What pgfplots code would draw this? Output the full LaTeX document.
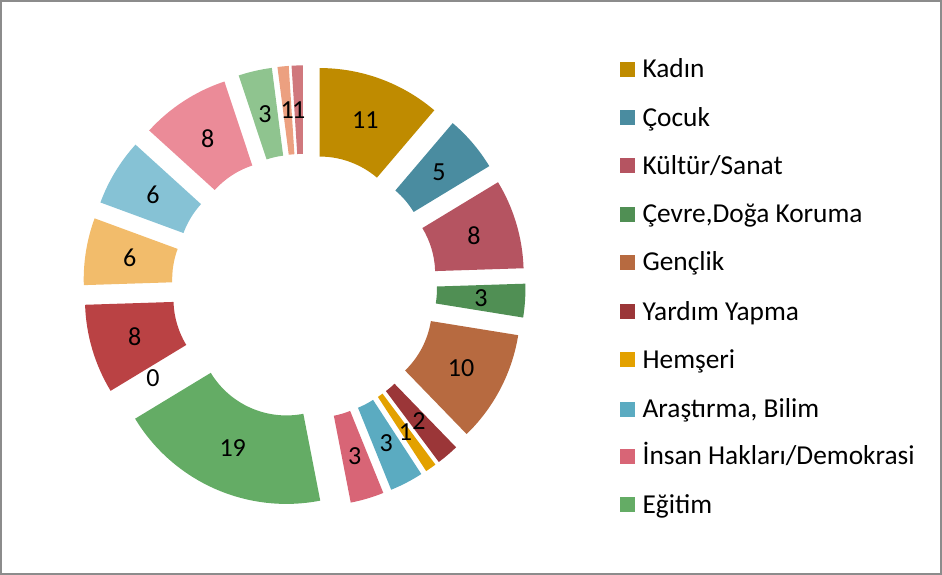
\documentclass[border=0pt]{standalone}
\usepackage{pgfplots}
\pgfplotsset{compat=1.18}
\usepackage{pgfplotstable}
\usepackage{fontspec}
\setmainfont{Carlito}
\definecolor{c1}{HTML}{BF8B00}
\definecolor{c2}{HTML}{4A8CA0}
\definecolor{c3}{HTML}{B55461}
\definecolor{c4}{HTML}{508F54}
\definecolor{c5}{HTML}{B76A40}
\definecolor{c6}{HTML}{9B3638}
\definecolor{c7}{HTML}{E3A100}
\definecolor{c8}{HTML}{5BABC1}
\definecolor{c9}{HTML}{D86576}
\definecolor{c10}{HTML}{64AC65}
\definecolor{c11}{HTML}{8C6D2E}
\definecolor{c12}{HTML}{BA4244}
\definecolor{c13}{HTML}{F2BC6B}
\definecolor{c14}{HTML}{86C2D5}
\definecolor{c15}{HTML}{EB8B98}
\definecolor{c16}{HTML}{8FC48F}
\definecolor{c17}{HTML}{ECA080}
\definecolor{c18}{HTML}{D0787D}
\definecolor{frame}{HTML}{8C8C8C}
\newcommand{\lblfont}{\fontsize{26}{30}\selectfont}
\newcommand{\legfont}{\fontsize{27.3}{32}\selectfont}
\pgfplotstableread{
v c
11 c1
5 c2
8 c3
3 c4
10 c5
2 c6
1 c7
3 c8
3 c9
19 c10
0 c11
8 c12
6 c13
6 c14
8 c15
3 c16
1 c17
1 c18
}\data
\newcommand{\legitem}[3]{%
  \fill[#2] (axis cs:621,#1-7.5) rectangle (axis cs:636,#1+7.5);
  \node[anchor=base west, inner sep=0pt, font=\legfont] at (axis cs:643,#1-8.5) {#3};}
\begin{document}
\begin{tikzpicture}
\begin{axis}[width=942bp,height=572bp,scale only axis,
  xmin=0,xmax=942,ymin=0,ymax=572,hide axis,clip=false]
\draw[frame, line width=2bp] (axis cs:5,571) rectangle (axis cs:940,1.5);
\def\cum{0}
\pgfplotsforeachungrouped \i in {0,...,17}{%
  \pgfplotstablegetelem{\i}{v}\of\data \let\val\pgfplotsretval
  \pgfplotstablegetelem{\i}{c}\of\data \let\col\pgfplotsretval
  \pgfmathsetmacro\sa{90-\cum/98*360}%
  \pgfmathsetmacro\ea{90-(\cum+\val)/98*360}%
  \pgfmathsetmacro\ma{(\sa+\ea)/2}%
  \pgfmathsetmacro\ox{306.7+44*cos(\ma)}%
  \pgfmathsetmacro\oy{287+44*sin(\ma)}%
  \pgfmathsetmacro\pax{\ox+88*cos(\sa)}%
  \pgfmathsetmacro\pay{\oy+88*sin(\sa)}%
  \pgfmathsetmacro\pbx{\ox+176*cos(\sa)}%
  \pgfmathsetmacro\pby{\oy+176*sin(\sa)}%
  \pgfmathsetmacro\pcx{\ox+88*cos(\ea)}%
  \pgfmathsetmacro\pcy{\oy+88*sin(\ea)}%
  \pgfmathsetmacro\plx{\ox+132*cos(\ma)}%
  \pgfmathsetmacro\ply{\oy+132*sin(\ma)}%
  \ifnum\val>0
  \edef\temp{\noexpand\fill[\col] (axis cs:\pax,\pay) -- (axis cs:\pbx,\pby)
     arc[start angle=\sa, end angle=\ea, radius=176bp] -- (axis cs:\pcx,\pcy)
     arc[start angle=\ea, end angle=\sa, radius=88bp] -- cycle;}%
  \temp
  \fi
  \edef\temp{\noexpand\node[inner sep=0pt, font=\noexpand\lblfont] at (axis cs:\plx,\ply) {\val};}%
  \temp
  \pgfmathsetmacro\cum{\cum+\val}%
}
\legitem{503}{c1}{Kadın}
\legitem{455}{c2}{Çocuk}
\legitem{407}{c3}{Kültür/Sanat}
\legitem{359}{c4}{Çevre,Doğa Koruma}
\legitem{311}{c5}{Gençlik}
\legitem{262}{c6}{Yardım Yapma}
\legitem{214}{c7}{Hemşeri}
\legitem{165}{c8}{Araştırma, Bilim}
\legitem{118}{c9}{İnsan Hakları/Demokrasi}
\legitem{70}{c10}{Eğitim}
\end{axis}
\end{tikzpicture}
\end{document}
